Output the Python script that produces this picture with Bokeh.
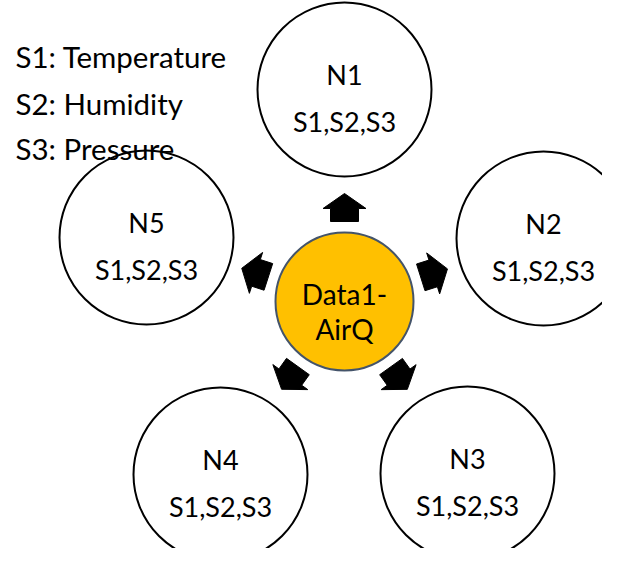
import math
from bokeh.plotting import figure
from bokeh.models import Range1d
from bokeh.embed import file_html
from bokeh.resources import INLINE
from bokeh.core.properties import value

# ---- data (pixel coordinates) ----
node_names = ["N1", "N2", "N3", "N4", "N5"]
node_x = [344, 543, 467, 220, 146]
node_y = [97, 246, 481, 482, 245]
node_sensors = ["S1,S2,S3", "S1,S2,S3", "S1,S2,S3", "S1,S2,S3", "S1,S2,S3"]
hub_x = [344]
hub_y = [309]
hub_lines = ["Data1-", "AirQ"]
legend_lines = ["S1: Temperature", "S2: Humidity", "S3: Pressure"]

# ---- styles ----
FONT = value("Lato")
NODE_R = 87
HUB_R = 69
ARROW_DIST = 94
arrow_shape_u = [14, -1, -1, -14, -14, -1, -1]
arrow_shape_v = [0, 21.5, 14, 14, -14, -14, -21.5]

W, H = 602, 548
p = figure(width=W, height=H, output_backend="svg", toolbar_location=None,
           x_range=Range1d(0, W), y_range=Range1d(H + 8, 8),
           x_axis_type=None, y_axis_type=None, min_border=0)
p.grid.visible = False
p.outline_line_color = None
p.background_fill_color = "white"
p.border_fill_color = "white"

# outer node circles
p.circle(x=node_x, y=node_y, radius=NODE_R, fill_color="white",
         line_color="black", line_width=2)

# hub circle
p.circle(x=hub_x, y=hub_y, radius=HUB_R, fill_color="#FFC000",
         line_color="#44546A", line_width=2)

# arrows from hub toward each node
xs, ys = [], []
for nx, ny in zip(node_x, node_y):
    dx, dy = nx - hub_x[0], ny - hub_y[0]
    d = math.hypot(dx, dy)
    ux, uy = dx / d, dy / d
    px_, py_ = -uy, ux
    cx, cy = hub_x[0] + ARROW_DIST * ux, hub_y[0] + ARROW_DIST * uy
    xs.append([cx + u * ux + v * px_ for u, v in zip(arrow_shape_u, arrow_shape_v)])
    ys.append([cy + u * uy + v * py_ for u, v in zip(arrow_shape_u, arrow_shape_v)])
p.patches(xs=xs, ys=ys, fill_color="black", line_color="black", line_width=1)

# node labels
p.text(x=node_x, y=[y - 15 for y in node_y], text=node_names, text_font=FONT,
       text_font_size="27px", text_align="center", text_baseline="alphabetic",
       text_color="black")
p.text(x=node_x, y=[y + 32 for y in node_y], text=node_sensors, text_font=FONT,
       text_font_size="27px", text_align="center", text_baseline="alphabetic",
       text_color="black")

# hub labels
p.text(x=[hub_x[0], hub_x[0]], y=[hub_y[0] - 8, hub_y[0] + 27], text=hub_lines,
       text_font=FONT, text_font_size="28px", text_align="center",
       text_baseline="alphabetic", text_color="black")

# legend
p.text(x=[15, 15, 15], y=[64, 111, 156], text=legend_lines, text_font=FONT,
       text_font_size="29.5px", text_align="left", text_baseline="alphabetic",
       text_color="black")

open("out.html", "w").write(file_html(p, INLINE))
